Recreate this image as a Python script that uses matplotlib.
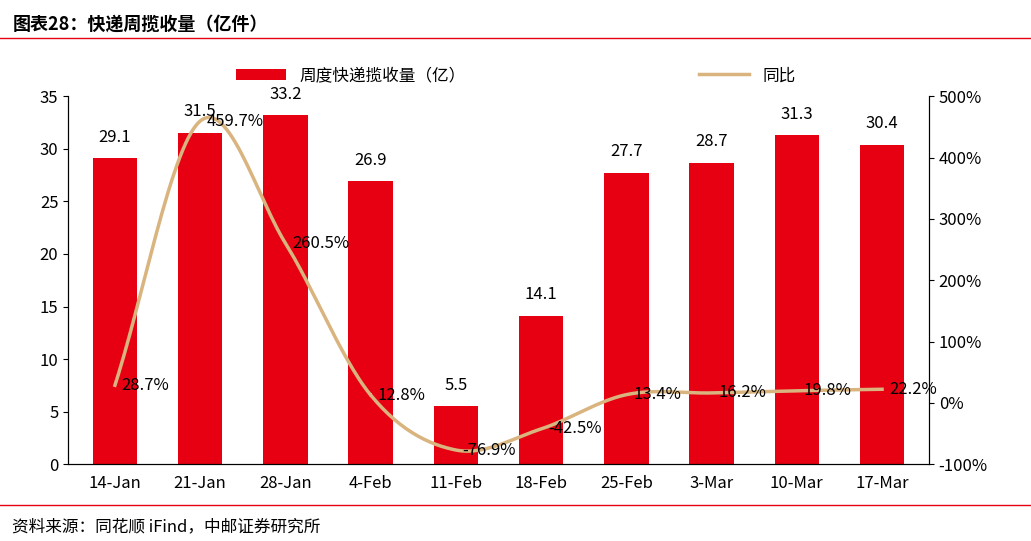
import numpy as np
import matplotlib.pyplot as plt

plt.rcParams['font.family'] = ['Noto Sans CJK SC', 'DejaVu Sans']

weeks = ["14-Jan", "21-Jan", "28-Jan", "4-Feb", "11-Feb", "18-Feb", "25-Feb", "3-Mar", "10-Mar", "17-Mar"]
volume = [29.1, 31.5, 33.2, 26.9, 5.5, 14.1, 27.7, 28.7, 31.3, 30.4]
yoy = [28.7, 459.7, 260.5, 12.8, -76.9, -42.5, 13.4, 16.2, 19.8, 22.2]

RED = "#E60012"
TAN = "#D9B47F"


def smooth(xs, ys, n=30):
    # Catmull-Rom style smoothing like Excel's smoothed line
    xs, ys = np.asarray(xs, float), np.asarray(ys, float)
    px = np.concatenate([[2 * xs[0] - xs[1]], xs, [2 * xs[-1] - xs[-2]]])
    py = np.concatenate([[2 * ys[0] - ys[1]], ys, [2 * ys[-1] - ys[-2]]])
    ox, oy = [], []
    t = np.linspace(0, 1, n)
    for i in range(1, len(px) - 2):
        for p, o in ((px, ox), (py, oy)):
            p0, p1, p2, p3 = p[i - 1], p[i], p[i + 1], p[i + 2]
            o.extend(0.5 * (2 * p1 + (-p0 + p2) * t + (2 * p0 - 5 * p1 + 4 * p2 - p3) * t ** 2
                            + (-p0 + 3 * p1 - 3 * p2 + p3) * t ** 3))
    return ox, oy


fig = plt.figure(figsize=(10.31, 5.41), dpi=100)
ax = fig.add_axes([0.066, 0.142, 0.835, 0.68])
x = np.arange(len(weeks))
ax.bar(x, volume, width=0.52, color=RED, label="周度快递揽收量（亿）")
for xi, v in zip(x, volume):
    ax.text(xi, v + 1.2, f"{v}", ha="center", va="bottom", fontsize=12)
ax.set_ylim(0, 35)
ax.set_yticks(range(0, 36, 5))
ax.set_xlim(-0.55, len(weeks) - 0.45)
ax.set_xticks(x)
ax.set_xticklabels(weeks)
ax.tick_params(labelsize=12, direction="out")
ax.tick_params(axis="x", length=0, pad=8)
ax.spines["top"].set_visible(False)

ax2 = ax.twinx()
sx, sy = smooth(x, yoy)
ax2.plot(sx, sy, color=TAN, lw=2.5, label="同比")
for xi, v in zip(x, yoy):
    ax2.text(xi + 0.08, v, f"{v}%", ha="left", va="center", fontsize=12)
ax2.set_ylim(-100, 500)
ax2.set_yticks(range(-100, 501, 100))
ax2.set_yticklabels([f"{t}%" for t in range(-100, 501, 100)])
ax2.tick_params(labelsize=12, direction="out")
ax2.spines["top"].set_visible(False)

h1, l1 = ax.get_legend_handles_labels()
h2, l2 = ax2.get_legend_handles_labels()
fig.legend(h1 + h2, l1 + l2, loc="center", bbox_to_anchor=(0.5, 0.86), ncol=2,
           frameon=False, fontsize=12, columnspacing=14, handlelength=3)

fig.text(0.012, 0.955, "图表28：快递周揽收量（亿件）", fontsize=13, fontweight="bold", va="center")
fig.add_artist(plt.Line2D([0.0, 1.0], [0.93, 0.93], color=RED, lw=1))
fig.add_artist(plt.Line2D([0.0, 1.0], [0.066, 0.066], color=RED, lw=1))
fig.text(0.012, 0.027, "资料来源：同花顺 iFind，中邮证券研究所", fontsize=12, va="center")

fig.savefig("out.png", dpi=100)
